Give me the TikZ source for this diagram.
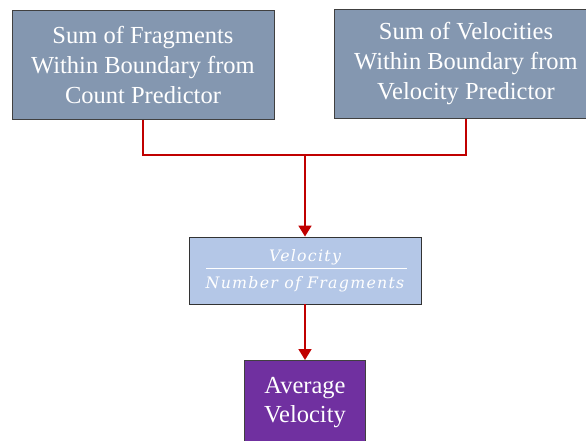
\documentclass[tikz,border=0pt]{standalone}
\usepackage{fontspec}
\setmainfont{Liberation Serif}
\newfontfamily\fracfont[LetterSpace=8]{DejaVu Serif}
\usetikzlibrary{arrows.meta}
\definecolor{slate}{HTML}{8497B0}
\definecolor{lightblue}{HTML}{B4C7E7}
\definecolor{purp}{HTML}{7030A0}
\definecolor{darkred}{HTML}{C00000}
\definecolor{edge}{HTML}{404040}
\begin{document}
\begin{tikzpicture}[x=1pt,y=-1pt,
  topbox/.style={draw=edge,line width=0.9pt,fill=slate,text=white,align=center,
    font=\fontsize{24.5}{30}\selectfont,inner sep=0pt},
  fracbox/.style={draw=black!80,line width=0.9pt,fill=lightblue,text=white,inner sep=0pt},
  fractext/.style={text=white,font=\fracfont\itshape\fontsize{15.8}{18}\selectfont,inner sep=0pt},
  outbox/.style={draw=edge,line width=0.9pt,fill=purp,text=white,align=center,
    font=\fontsize{24.5}{29}\selectfont,inner sep=0pt},
  flow/.style={draw=darkred,line width=1.8pt},
  flowarrow/.style={flow,-{Triangle[length=11pt,width=13pt]}}]
\useasboundingbox (0,0) rectangle (586,440);
\node[topbox,minimum width=262pt,minimum height=109pt] (b1) at (143,65)
  {Sum of Fragments\\Within Boundary from\\Count Predictor};
\node[topbox,minimum width=264pt,minimum height=109pt] (b2) at (466,64)
  {Sum of Velocities\\Within Boundary from\\Velocity Predictor};
\node[fracbox,minimum width=232pt,minimum height=67pt] (b3) at (305,270.5) {};
\node[fractext] (num) at (305,257) {Velocity};
\node[fractext] (den) at (305,284) {Number of Fragments};
\coordinate (fl) at (206,268.5);
\coordinate (fr) at (407,268.5);
\draw[white,line width=1pt] (fl) -- (fr);
\node[outbox,minimum width=121pt,minimum height=84pt,anchor=north] (b4) at (305,360)
  {Average\\Velocity};
\coordinate (j) at (305,155);
\draw[flow] (b1.south) |- (j);
\draw[flow] (b2.south) |- (j);
\draw[flowarrow] (j) -- (b3.north);
\draw[flowarrow] (b3.south) -- (b4.north);
\end{tikzpicture}
\end{document}
